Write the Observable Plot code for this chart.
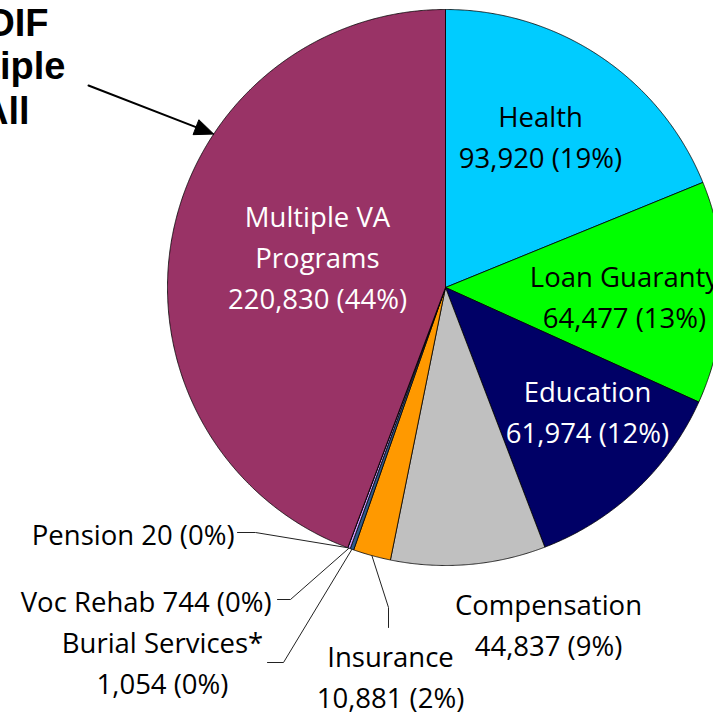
<!DOCTYPE html>
<html><head><meta charset="utf-8">
<script src="https://cdn.jsdelivr.net/npm/d3@7"></script>
<script src="https://cdn.jsdelivr.net/npm/@observablehq/plot@0.6"></script>
<style>body{margin:0;background:#fff;} svg{display:block}</style>
</head><body><div id="chart"></div>
<script>
// ---- data ----
const categories = ["Health","Loan Guaranty","Education","Compensation","Insurance","Burial Services*","Voc Rehab","Pension","Multiple VA Programs"];
const displayNames = ["Health","Loan Guaranty","Education","Compensation","Insurance","Burial Services*","Voc Rehab","Pension","Multiple VA\nPrograms"];
const values = [93920,64477,61974,44837,10881,1054,744,20,220830];
const colors = ["#00CCFF","#00FF00","#000066","#C0C0C0","#FF9900","#2F5A8A","#CC99FF","#9999FF","#993366"];
const titleLines = ["OEF/OIF","Multiple","All"];

// ---- layout (pixels) ----
const cx = 445, cy = 287, R = 278;
const labelLayout = {
  "Health":               {x:540, y:167, anchor:"middle", fill:"black", sep:"\n"},
  "Loan Guaranty":        {x:624, y:327, anchor:"middle", fill:"black", sep:"\n"},
  "Education":            {x:587, y:442, anchor:"middle", fill:"white", sep:"\n"},
  "Compensation":         {x:548, y:655, anchor:"middle", fill:"black", sep:"\n"},
  "Insurance":            {x:390, y:707, anchor:"middle", fill:"black", sep:"\n"},
  "Burial Services*":     {x:162, y:693, anchor:"middle", fill:"black", sep:"\n"},
  "Voc Rehab":            {x:271, y:611, anchor:"end",    fill:"black", sep:" "},
  "Pension":              {x:234, y:544, anchor:"end",    fill:"black", sep:" "},
  "Multiple VA Programs": {x:317, y:308, anchor:"middle", fill:"white", sep:"\n"}
};
const leaderLayout = {
  "Pension":          {from:[237,532], elbow:[255,532]},
  "Voc Rehab":        {from:[277,599], elbow:[290,599]},
  "Burial Services*": {from:[267,662], elbow:[283,662]},
  "Insurance":        {from:[388,627], elbow:[388,607]}
};
const titleLayout = [{x:48,y:35},{x:65,y:78},{x:29,y:123}];
const arrowFrom = [88,85], arrowAngleDeg = 303.5;

// ---- geometry from data ----
const total = d3.sum(values);
const fmt = d3.format(",");
let acc = 0;
const slices = categories.map((c,i)=>{
  const a0 = acc/total*2*Math.PI; acc += values[i]; const a1 = acc/total*2*Math.PI;
  return {c, i, a0, a1, mid:(a0+a1)/2};
});
const px = (a,r)=>cx + r*Math.sin(a), py = (a,r)=>cy - r*Math.cos(a);
const slicePts = slices.flatMap(s=>{
  const n = Math.max(2, Math.ceil((s.a1-s.a0)/0.004));
  const pts = [{x:cx,y:cy}];
  for (let k=0;k<=n;k++){ const a = s.a0+(s.a1-s.a0)*k/n; pts.push({x:px(a,R), y:py(a,R)}); }
  pts.push({x:cx,y:cy});
  return pts.map(p=>({...p, cat:s.c, color:colors[s.i]}));
});

const labels = slices.map(s=>{
  const L = labelLayout[s.c];
  const pct = Math.round(values[s.i]/total*100);
  return {...L, text: displayNames[s.i] + L.sep + fmt(values[s.i]) + " (" + pct + "%)"};
});

const leaders = slices.filter(s=>leaderLayout[s.c]).flatMap(s=>{
  const L = leaderLayout[s.c];
  const arc = [px(s.mid,R), py(s.mid,R)];
  return [L.from, L.elbow, arc].map(p=>({x:p[0], y:p[1], cat:s.c}));
});

// arrow: points at the Multiple VA slice edge
const at = arrowAngleDeg*Math.PI/180;
const tip = [px(at,R), py(at,R)];
const dx = tip[0]-arrowFrom[0], dy = tip[1]-arrowFrom[1], dl = Math.hypot(dx,dy);
const ux = dx/dl, uy = dy/dl, nx = -uy, ny = ux;
const hl = 19, hw = 8;
const base = [tip[0]-hl*ux, tip[1]-hl*uy];
const arrowLine = [{x:arrowFrom[0],y:arrowFrom[1]},{x:base[0],y:base[1]}];
const arrowHead = [{x:tip[0],y:tip[1]},{x:base[0]+hw*nx,y:base[1]+hw*ny},{x:base[0]-hw*nx,y:base[1]-hw*ny},{x:tip[0],y:tip[1]}];

const titles = titleLines.map((t,i)=>({text:t, ...titleLayout[i]}));

const font = "'Open Sans', 'Noto Sans', sans-serif";
const chart = Plot.plot({
  width:713, height:714, margin:0,
  x:{domain:[0,713], range:[0,713], axis:null},
  y:{domain:[0,714], range:[0,714], axis:null},
  color:{type:"identity"},
  style:{background:"white", overflow:"hidden"},
  marks:[
    Plot.line(slicePts, {x:"x", y:"y", z:"cat", fill:"color", stroke:"black", strokeWidth:0.8, strokeLinejoin:"round", curve:"linear"}),
    Plot.line(leaders, {x:"x", y:"y", z:"cat", stroke:"#222", strokeWidth:1}),
    Plot.line(arrowLine, {x:"x", y:"y", stroke:"black", strokeWidth:2}),
    Plot.line(arrowHead, {x:"x", y:"y", fill:"black", stroke:"black", strokeWidth:1}),
    Plot.text(labels.filter(d=>d.anchor==="middle"), {x:"x", y:"y", text:"text", fill:"fill", textAnchor:"middle", lineAnchor:"bottom", lineHeight:1.48, fontSize:27.5, fontFamily:font}),
    Plot.text(labels.filter(d=>d.anchor==="end"), {x:"x", y:"y", text:"text", fill:"fill", textAnchor:"end", lineAnchor:"bottom", fontSize:27.5, fontFamily:font}),
    Plot.text(titles, {x:"x", y:"y", text:"text", fill:"black", textAnchor:"end", lineAnchor:"bottom", fontSize:38, fontWeight:"bold", fontFamily:"'Liberation Sans', Arial, sans-serif"})
  ]
});
document.getElementById("chart").appendChild(chart);
</script>
</body></html>
